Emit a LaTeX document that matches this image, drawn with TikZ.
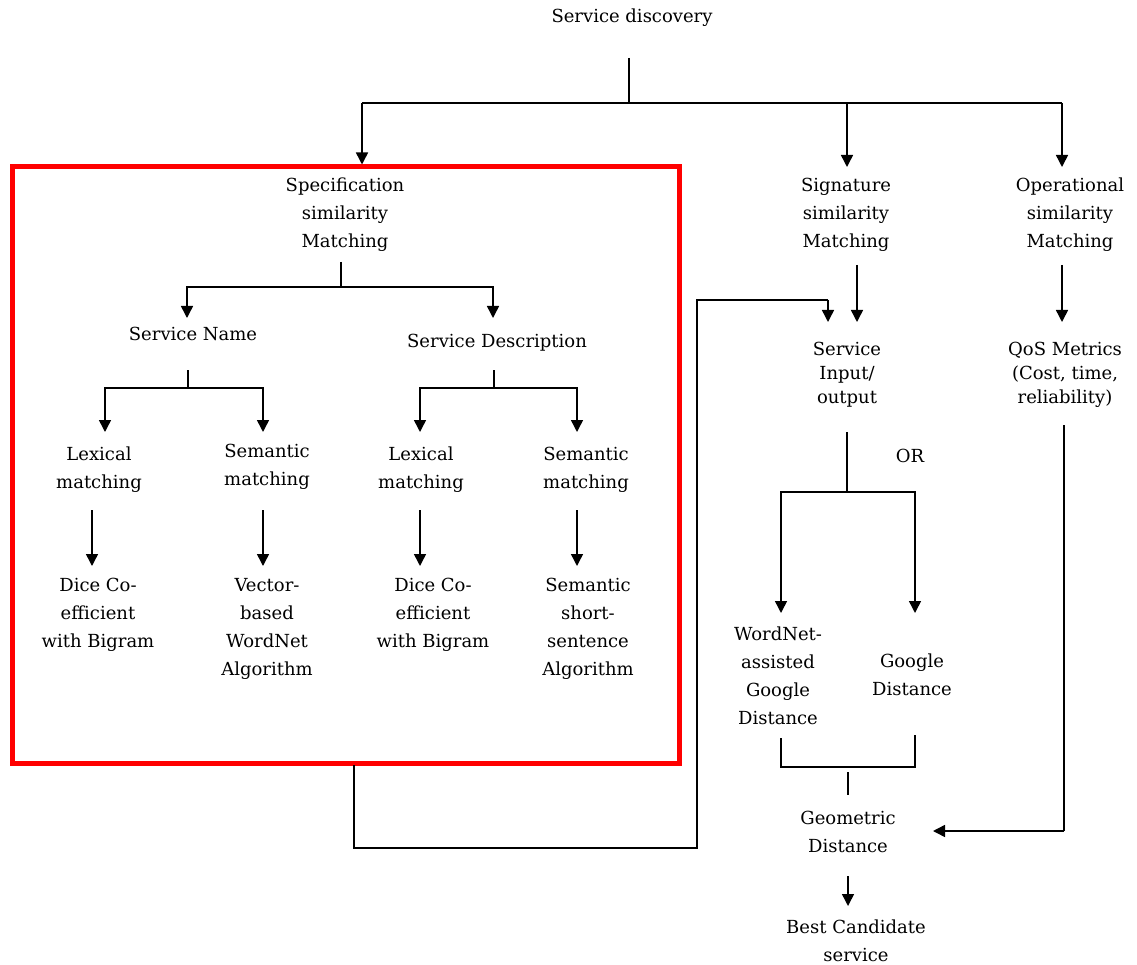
\documentclass[tikz,border=0pt]{standalone}
\usepackage{fontspec}
\setmainfont{DejaVu Serif}
\usetikzlibrary{arrows.meta}
\begin{document}
\begin{tikzpicture}[x=1pt,y=-1pt,
  txt/.style={align=center,inner sep=0pt,font={\fontsize{18}{28}\selectfont},text=black},
  tight/.style={align=center,inner sep=0pt,font={\fontsize{18}{24}\selectfont},text=black},
  conn/.style={line width=1.5pt,black},
  arr/.style={conn,-{Triangle[length=12pt,width=12pt]}}]
\useasboundingbox (0,0) rectangle (1137,965);
% nodes
\node[txt] (sd) at (632,18) {Service discovery};
\node[draw=red,line width=5pt,minimum width=667pt,minimum height=596pt,inner sep=0pt] (frame) at (345.5,465) {};
\node[txt] (spec) at (345,215) {Specification\\similarity\\Matching};
\node[txt] (sig) at (846,215) {Signature\\similarity\\Matching};
\node[txt] (op) at (1070,215) {Operational\\similarity\\Matching};
\node[txt] (sn) at (193,334) {Service Name};
\node[txt] (sdesc) at (497,343) {Service Description};
\node[txt] (lex1) at (99,470) {Lexical\\matching};
\node[txt] (sem1) at (267,467) {Semantic\\matching};
\node[txt] (lex2) at (421,470) {Lexical\\matching};
\node[txt] (sem2) at (586,470) {Semantic\\matching};
\node[txt] (dice1) at (98,615) {Dice Co-\\efficient\\with Bigram};
\node[txt] (vec) at (267,629) {Vector-\\based\\WordNet\\Algorithm};
\node[txt] (dice2) at (433,615) {Dice Co-\\efficient\\with Bigram};
\node[txt] (sss) at (588,629) {Semantic\\short-\\sentence\\Algorithm};
\node[tight] (sio) at (847,375) {Service\\Input/\\output};
\node[tight] (qos) at (1065,375) {QoS Metrics\\(Cost, time,\\reliability)};
\node[txt] (or) at (910,456) {OR};
\node[txt] (wag) at (778,676) {WordNet-\\assisted\\Google\\Distance};
\node[txt] (gd) at (912,675) {Google\\Distance};
\node[txt] (geo) at (848,832) {Geometric\\Distance};
\node[txt] (best) at (856,941) {Best Candidate\\service};
% junction coordinates
\coordinate (t0) at (629,58);
\coordinate (t1) at (629,103);
\coordinate (ta) at (362,103);
\coordinate (tb) at (847,103);
\coordinate (tc) at (1062,103);
\coordinate (s0) at (341,262);
\coordinate (s1) at (341,287);
\coordinate (n0) at (188,370);
\coordinate (n1) at (188,388);
\coordinate (d0) at (494,370);
\coordinate (d1) at (494,388);
\coordinate (o0) at (847,432);
\coordinate (o1) at (847,492);
\coordinate (fb0) at (354,765);
\coordinate (fb1) at (697,848);
\coordinate (fb2) at (828,300);
\coordinate (fbt) at (828,322);
\coordinate (q0) at (1064,425);
\coordinate (q1) at (1064,831);
\coordinate (qt) at (933,831);
\coordinate (b0) at (781,738);
\coordinate (b1) at (915,735);
\coordinate (b2) at (848,767);
\coordinate (g0) at (848,772);
\coordinate (g1) at (848,795);
% top tree
\draw[conn] (t0) -- (t1);
\draw[conn] (ta) -- (tc);
\draw[arr] (ta) -- (ta|-frame.north);
\draw[arr] (tb) -- (847,167);
\draw[arr] (tc) -- (1062,167);
% specification tree
\draw[conn] (s0) -- (s1);
\draw[arr] (s1) -| (187,318);
\draw[arr] (s1) -| (493,318);
\draw[conn] (n0) -- (n1);
\draw[arr] (n1) -| (105,432);
\draw[arr] (n1) -| (263,432);
\draw[conn] (d0) -- (d1);
\draw[arr] (d1) -| (420,432);
\draw[arr] (d1) -| (577,432);
\draw[arr] (92,510) -- (92,566);
\draw[arr] (263,510) -- (263,566);
\draw[arr] (420,510) -- (420,566);
\draw[arr] (577,510) -- (577,566);
% signature / operational
\draw[arr] (857,265) -- (857,322);
\draw[arr] (1062,265) -- (1062,322);
% feedback from frame
\draw[conn] (fb0) |- (fb1) |- (fb2);
\draw[arr] (fb2) -- (fbt);
% OR split
\draw[conn] (o0) -- (o1);
\draw[arr] (o1) -| (781,613);
\draw[arr] (o1) -| (915,613);
% bracket
\draw[conn] (b0) |- (b2) -| (b1);
\draw[conn] (g0) -- (g1);
% QoS to geometric
\draw[conn] (q0) -- (q1);
\draw[arr] (q1) -- (qt);
% geometric to best
\draw[arr] (848,876) -- (848,906);
\end{tikzpicture}
\end{document}
